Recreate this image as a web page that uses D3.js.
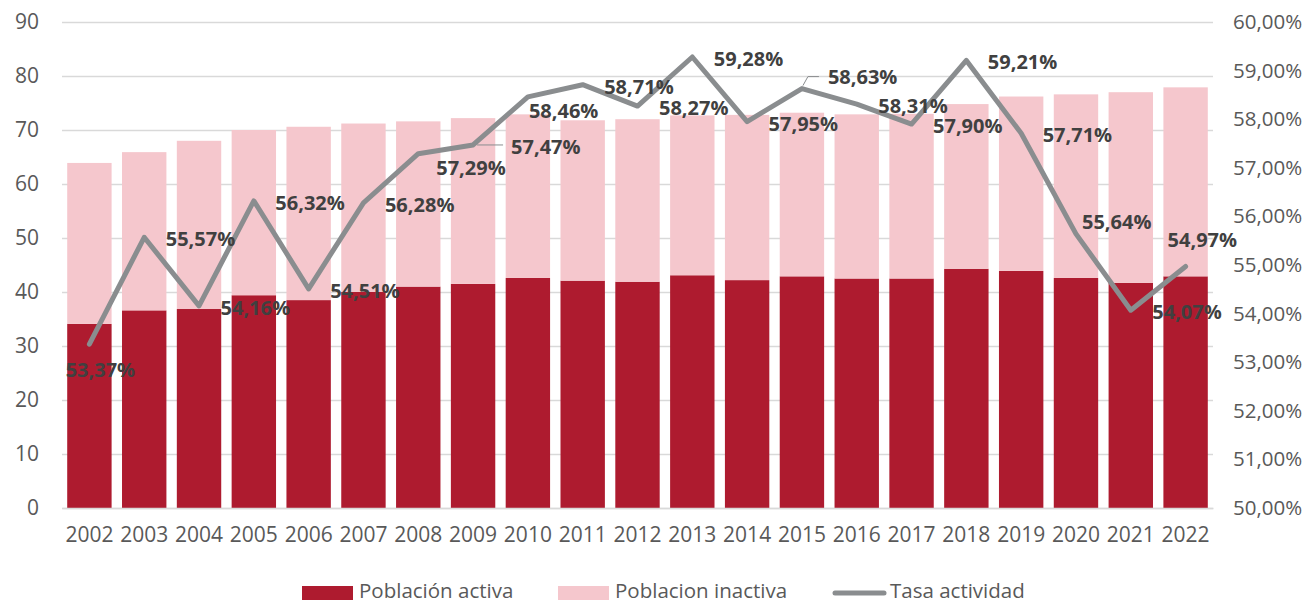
<!DOCTYPE html>
<html>
<head>
<meta charset="utf-8">
<script src="https://cdn.jsdelivr.net/npm/d3@7"></script>
<style>
  html, body { margin: 0; padding: 0; background: #fff; }
  svg { display: block; }
  text { font-family: "Open Sans", sans-serif; }
</style>
</head>
<body>
<svg id="chart" width="1308" height="603"></svg>
<script>
// ---- Data ----
const years = ["2002","2003","2004","2005","2006","2007","2008","2009","2010","2011","2012","2013","2014","2015","2016","2017","2018","2019","2020","2021","2022"];
const activa = [34.1, 36.6, 36.85, 39.4, 38.5, 40.0, 41.0, 41.5, 42.6, 42.1, 41.9, 43.1, 42.2, 42.9, 42.5, 42.5, 44.3, 43.9, 42.6, 41.7, 42.9];
const inactiva = [29.8, 29.3, 31.15, 30.6, 32.1, 31.2, 30.6, 30.7, 30.3, 29.7, 30.1, 29.6, 30.6, 30.3, 30.4, 30.5, 30.5, 32.3, 34.0, 35.3, 35.0];
const tasa = [53.37, 55.57, 54.16, 56.32, 54.51, 56.28, 57.29, 57.47, 58.46, 58.71, 58.27, 59.28, 57.95, 58.63, 58.31, 57.90, 59.21, 57.71, 55.64, 54.07, 54.97];
const leftTicks = [0, 10, 20, 30, 40, 50, 60, 70, 80, 90];
const rightTicks = [50, 51, 52, 53, 54, 55, 56, 57, 58, 59, 60];
const legendLabels = ["Población activa", "Poblacion inactiva", "Tasa actividad"];

// label placement (layout only): [type, dx, dy] relative to the point
const labelPlacement = [
  ["c", 11, 25], ["r"], ["r"], ["r"], ["r"], ["r"], ["s", 18, 14], ["lead", 38, 2],
  ["s", 1, 14], ["r"], ["r"], ["r"], ["r"], ["lead2", 26, -12], ["r"], ["r"], ["r"], ["r"],
  ["s", 6, -12], ["r"], ["s", -18, -27]
];

// ---- Layout ----
const colActiva = "#AE1B2F";
const colInactiva = "#F5C7CD";
const colLine = "#8A8D8F";
const colGrid = "#D9D9D9";
const colTick = "#595959";
const colLabel = "#404040";

const svg = d3.select("#chart");
const m = { left: 62, right: 1213, top: 22, bottom: 508 };

const x = d3.scaleBand().domain(years).range([m.left, m.right]).paddingInner(0.19).paddingOuter(0.095);
const yL = d3.scaleLinear().domain([0, 90]).range([m.bottom, m.top]);
const yR = d3.scaleLinear().domain([50, 60]).range([m.bottom, m.top]);

const loc = d3.formatLocale({ decimal: ",", thousands: ".", grouping: [3], currency: ["", "€"] });
const pctFmt = v => loc.format(".2f")(v) + "%";

// gridlines
svg.append("g")
  .attr("transform", `translate(${m.left},0)`)
  .call(d3.axisLeft(yL).tickValues(leftTicks).tickSize(-(m.right - m.left)).tickFormat(""))
  .call(g => g.select(".domain").remove())
  .call(g => g.selectAll("line").attr("stroke", colGrid).attr("stroke-width", 1.5));

// bars
const stackData = years.map((yv, i) => ({ year: yv, activa: activa[i], inactiva: inactiva[i] }));
const stack = d3.stack().keys(["activa", "inactiva"])(stackData);
const colors = { activa: colActiva, inactiva: colInactiva };
svg.append("g").selectAll("g").data(stack).join("g")
  .attr("fill", d => colors[d.key])
  .selectAll("rect").data(d => d).join("rect")
  .attr("x", d => x(d.data.year))
  .attr("width", x.bandwidth())
  .attr("y", d => yL(d[1]))
  .attr("height", d => yL(d[0]) - yL(d[1]));

// left axis
svg.append("g")
  .attr("transform", `translate(${m.left},0)`)
  .call(d3.axisLeft(yL).tickValues(leftTicks).tickSize(0).tickPadding(23))
  .call(g => g.select(".domain").remove())
  .call(g => g.selectAll("text").attr("fill", colTick).style("font-size", "21px").style("font-family", "Open Sans"));

// right axis
svg.append("g")
  .attr("transform", `translate(${m.right},0)`)
  .call(d3.axisRight(yR).tickValues(rightTicks).tickSize(0).tickPadding(20).tickFormat(pctFmt))
  .call(g => g.select(".domain").remove())
  .call(g => g.selectAll("text").attr("fill", colTick).style("font-size", "20.5px").style("font-family", "Open Sans"));

// bottom axis
svg.append("g")
  .attr("transform", `translate(0,${m.bottom})`)
  .call(d3.axisBottom(x).tickSize(0).tickPadding(19))
  .call(g => g.select(".domain").attr("stroke", colGrid).attr("stroke-width", 1.5))
  .call(g => g.selectAll("text").attr("fill", colTick).style("font-size", "21px").style("font-family", "Open Sans"));

// line
const cx = yv => x(yv) + x.bandwidth() / 2;
const line = d3.line().x((d, i) => cx(years[i])).y(d => yR(d));
svg.append("path")
  .datum(tasa)
  .attr("fill", "none")
  .attr("stroke", colLine)
  .attr("stroke-width", 5)
  .attr("stroke-linejoin", "round")
  .attr("stroke-linecap", "round")
  .attr("d", line);

// data labels
const lg = svg.append("g");
tasa.forEach((v, i) => {
  const px = cx(years[i]), py = yR(v);
  const p = labelPlacement[i];
  let tx, ty, anchor = "start";
  if (p[0] === "r") { tx = px + 21.5; ty = py + 1.5; }
  else if (p[0] === "c") { tx = px + p[1]; ty = py + p[2]; anchor = "middle"; }
  else if (p[0] === "s") { tx = px + p[1]; ty = py + p[2]; }
  else if (p[0] === "lead") {
    tx = px + p[1]; ty = py + p[2];
    lg.append("line").attr("x1", px + 4).attr("y1", py).attr("x2", tx - 8).attr("y2", py)
      .attr("stroke", colLine).attr("stroke-width", 1);
  } else if (p[0] === "lead2") {
    tx = px + p[1]; ty = py + p[2];
    lg.append("polyline")
      .attr("points", `${px + 1},${py - 3} ${px + 6},${ty} ${tx - 9},${ty}`)
      .attr("fill", "none").attr("stroke", colLine).attr("stroke-width", 1);
  }
  lg.append("text")
    .attr("x", tx).attr("y", ty)
    .attr("text-anchor", anchor)
    .attr("dominant-baseline", "central")
    .attr("fill", colLabel)
    .style("font-size", "20px")
    .style("font-weight", "700")
    .text(pctFmt(v));
});

// legend
const leg = svg.append("g");
const ly = 593, lty = 590;
leg.append("rect").attr("x", 302).attr("y", ly - 7).attr("width", 51).attr("height", 14).attr("fill", colActiva);
leg.append("text").attr("x", 359).attr("y", lty).attr("dominant-baseline", "central").attr("fill", colTick).style("font-size", "20.5px").text(legendLabels[0]);
leg.append("rect").attr("x", 558).attr("y", ly - 7).attr("width", 51).attr("height", 14).attr("fill", colInactiva);
leg.append("text").attr("x", 615).attr("y", lty).attr("dominant-baseline", "central").attr("fill", colTick).style("font-size", "20.5px").text(legendLabels[1]);
leg.append("line").attr("x1", 835).attr("x2", 884).attr("y1", ly).attr("y2", ly).attr("stroke", colLine).attr("stroke-width", 5).attr("stroke-linecap", "round");
leg.append("text").attr("x", 890).attr("y", lty).attr("dominant-baseline", "central").attr("fill", colTick).style("font-size", "20.5px").text(legendLabels[2]);
</script>
</body>
</html>
